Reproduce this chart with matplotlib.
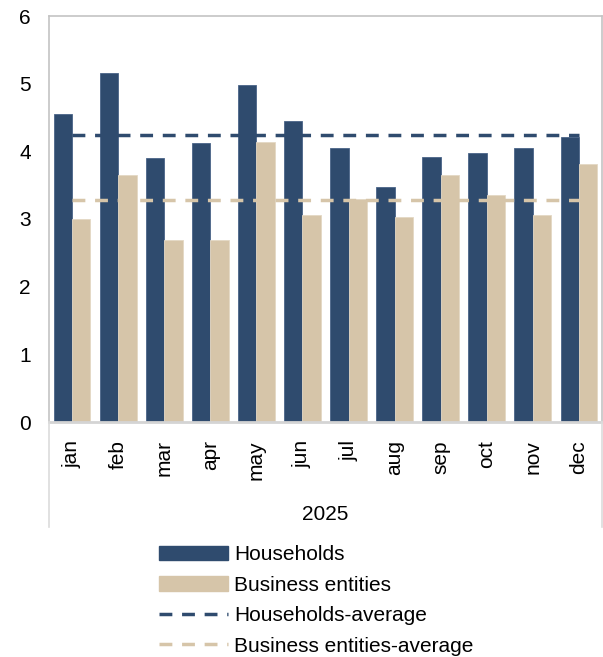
import numpy as np
import matplotlib
matplotlib.use('Agg')
import matplotlib.pyplot as plt
from matplotlib.lines import Line2D
from matplotlib.patches import Patch

months = ['jan', 'feb', 'mar', 'apr', 'may', 'jun', 'jul', 'aug', 'sep', 'oct', 'nov', 'dec']
households = [4.55, 5.16, 3.90, 4.12, 4.98, 4.45, 4.05, 3.47, 3.91, 3.97, 4.05, 4.21]
business = [3.00, 3.65, 2.69, 2.69, 4.14, 3.06, 3.29, 3.03, 3.65, 3.35, 3.06, 3.81]
year = '2025'

blue = '#2f4b6e'
tan = '#d6c5a9'
grey = '#c4c4c4'

plt.rcParams['font.family'] = ['Liberation Sans', 'DejaVu Sans']

fig = plt.figure(figsize=(6.03, 6.57), dpi=100)
L, R = 49/603, 602/603
B, T = (657-422)/657, (657-16)/657
ax = fig.add_axes([L, B, R-L, T-B])

x = np.arange(len(months))
w = 0.4
ax.bar(x - w/2, households, w, color=blue, edgecolor='#4a6488', linewidth=0.6, zorder=2)
ax.bar(x + w/2, business, w, color=tan, edgecolor='#e4d8c4', linewidth=0.6, zorder=2)

h_avg = np.mean(households)
b_avg = np.mean(business)
ax.plot(x, [h_avg]*len(x), color=blue, lw=2.5, dashes=(3.7, 2.8), zorder=3)
ax.plot(x, [b_avg]*len(x), color=tan, lw=2.5, dashes=(3.7, 2.8), zorder=3)

ax.set_xlim(-0.5, len(months) - 0.5)
ax.set_ylim(0, 6)
ax.set_yticks(range(7))
ax.set_xticks(x)
ax.set_xticklabels(months, rotation=90)
ax.tick_params(axis='y', length=0, pad=13, labelsize=15)
ax.tick_params(axis='x', length=0, pad=13, labelsize=15)
for s in ['left', 'right', 'top']:
    ax.spines[s].set_color(grey)
    ax.spines[s].set_linewidth(1.2)
ax.spines['bottom'].set_color('#d4d4d4')
ax.spines['bottom'].set_linewidth(2)

# category box below the axis
yb = (657-527)/657
fig.add_artist(Line2D([L, L], [yb, B], color='#dcdcdc', lw=1.2))
fig.add_artist(Line2D([R, R], [yb, B], color='#dcdcdc', lw=1.2))
fig.text((L+R)/2, (657-515)/657, year, ha='center', va='center', fontsize=15)

handles = [Patch(color=blue), Patch(color=tan),
           Line2D([], [], color=blue, lw=2.5, dashes=(3.7, 2.8)),
           Line2D([], [], color=tan, lw=2.5, dashes=(3.7, 2.8))]
labels = ['Households', 'Business entities', 'Households-average', 'Business entities-average']
fig.legend(handles, labels, loc='upper left', bbox_to_anchor=(151/603, (657-537)/657),
           frameon=False, fontsize=15, handlelength=3.3, handletextpad=0.3,
           labelspacing=0.55, borderaxespad=0)

fig.savefig('out.png', dpi=100)
